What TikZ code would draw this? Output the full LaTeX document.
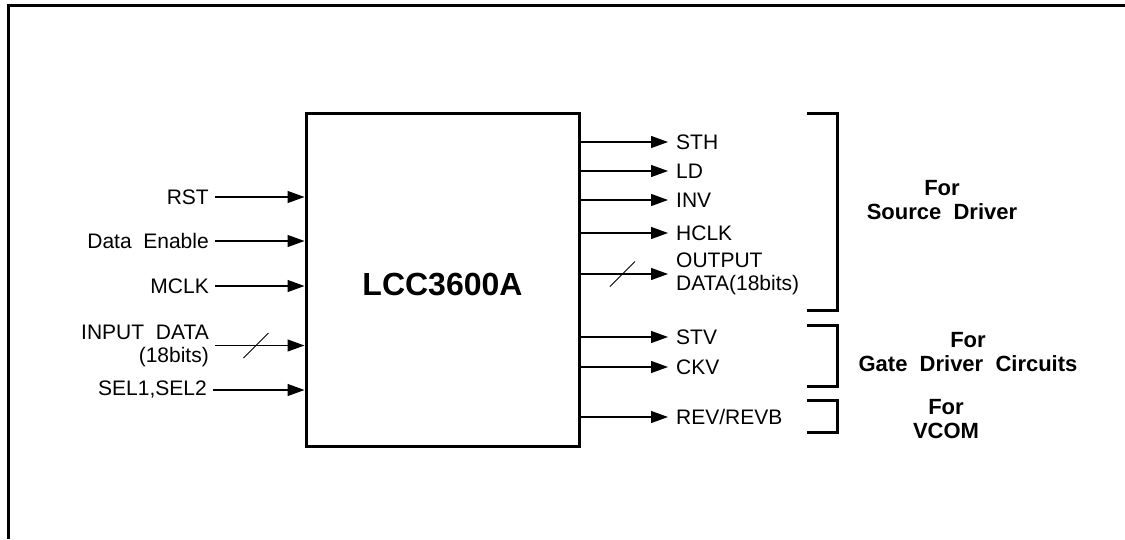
\documentclass[tikz,border=0pt]{standalone}
\usepackage{fontspec}
\setmainfont{Liberation Sans}
\usetikzlibrary{arrows.meta,positioning}
\newcommand{\sigfont}{\fontsize{21}{23}\selectfont}
\newcommand{\grpfont}{\fontsize{22}{24}\selectfont\bfseries}
\tikzstyle{chip} = [draw, line width=3pt, minimum width=273pt, minimum height=333pt,
  text height=33pt, font=\fontsize{32}{34}\selectfont\bfseries]
\tikzstyle{inlabel} = [anchor=east, inner xsep=6pt, inner ysep=0pt, align=right,
  font=\sigfont]
\tikzstyle{outlabel} = [anchor=west, inner xsep=8pt, inner ysep=0pt, align=left,
  font=\sigfont]
\tikzstyle{group} = [align=center, font=\grpfont]
\tikzstyle{line} = [draw, line width=1.2pt, -{Triangle[length=17pt,width=12pt]}]
\tikzstyle{bus} = [draw, line width=0.8pt]
\tikzstyle{bracket} = [draw, line width=3pt]
\tikzstyle{frame} = [draw, line width=3pt]
\newcommand{\inpin}[2]{node (#1) [inlabel] {#2}}
\newcommand{\outpin}[2]{node (#1) [outlabel] {#2}}

\begin{document}
\begin{tikzpicture}[x=1pt,y=-1pt]
  \useasboundingbox (0,0) rectangle (1125,539);

  % outer frame, cut off at right and bottom
  \path [frame] (8.5,539) -- (8.5,5) -- (1125,5);

  % the controller
  \node (LCC) [chip] at (442.5,279.5) {LCC3600A};

  % input signals
  \path (215,197) \inpin{RST}{RST};
  \path (RST.east)+(0,44) \inpin{DE}{Data\ \ Enable};
  \path (DE.east)+(0,45) \inpin{MCLK}{MCLK};
  \path (MCLK.east)+(0,59.5) \inpin{INDATA}{INPUT\ \ DATA\\(18bits)};
  \path (INDATA.east)+(-2,44.5) \inpin{SEL}{SEL1,SEL2};

  % output signals
  \path (668,142) \outpin{STH}{STH};
  \path (STH.west)+(0,29) \outpin{LD}{LD};
  \path (LD.west)+(0,29) \outpin{INV}{INV};
  \path (INV.west)+(0,33) \outpin{HCLK}{HCLK};
  \path (HCLK.west)+(0,41) \outpin{OUTDATA}{OUTPUT\\DATA(18bits)};
  \path (OUTDATA.west)+(0,63) \outpin{STV}{STV};
  \path (STV.west)+(0,30) \outpin{CKV}{CKV};
  \path (CKV.west)+(0,50) \outpin{REV}{REV/REVB};

  % what the outputs are for
  \node (SRC) [group] at (942,200) {For\\Source\ \ Driver};
  \node (GATE) [group] at (968,352) {For\\Gate\ \ Driver\ \ Circuits};
  \node (VCOM) [group] at (946,419) {For\\VCOM};

  \path [bracket] (807,113) -| (837,310) -- (807,310);
  \path [bracket] (807,325) -| (837,386) -- (807,386);
  \path [bracket] (807,400) -| (837,432) -- (807,432);

  % Draw arrows between elements
  \foreach \s in {RST,DE,MCLK,INDATA,SEL}
    \path [line] (\s.east) -- (\s.east -| LCC.west);
  \foreach \s in {STH,LD,INV,HCLK,OUTDATA,STV,CKV,REV}
    \path [line] (LCC.east |- \s.west) -- (\s.west);

  % bus slashes
  \path (INDATA.east)+(41,0) coordinate (inbus);
  \path [bus] (inbus)+(-12.5,12.5) -- +(12.5,-12.5);
  \path (LCC.east |- OUTDATA.west)+(42,0) coordinate (outbus);
  \path [bus] (outbus)+(-12.5,12.5) -- +(12.5,-12.5);

\end{tikzpicture}
\end{document}
